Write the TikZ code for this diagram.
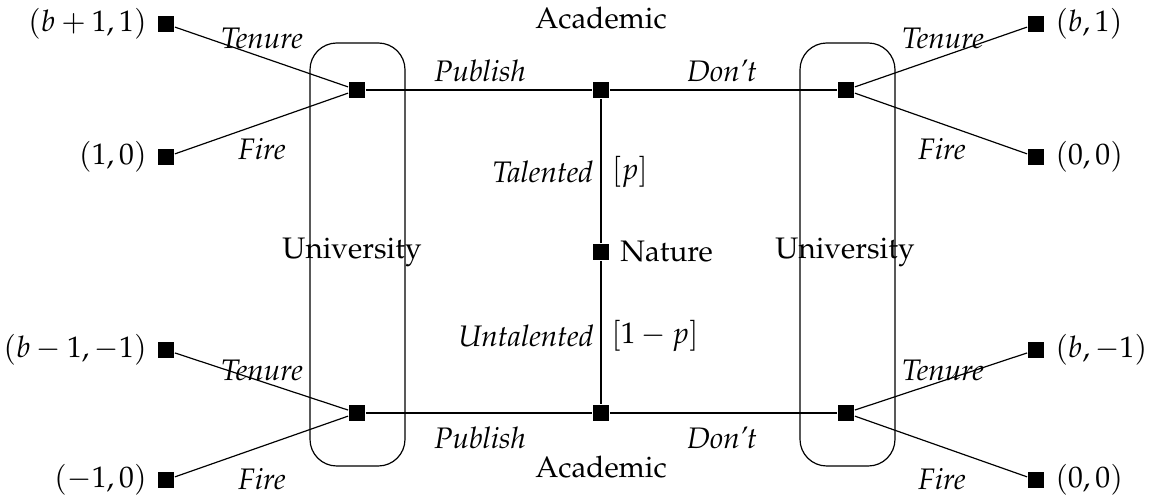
\documentclass[tikz,border=0pt]{standalone}
\usepackage[T1]{fontenc}
\usepackage{mathpazo}

\tikzset{every picture/.style={line width=0.4pt}}
\tikzset{
  move/.style={rectangle, fill=black, inner sep=0pt, minimum size=5.6pt},
  act/.style={font=\itshape, inner sep=0.75pt},
  infoset/.style={rounded corners=9pt},
}

\begin{document}
\begin{tikzpicture}[x=0.337pt,y=0.337pt,yscale=-1,xscale=1]
\useasboundingbox (0,0) rectangle (1153,503);

%Rounded Rect left information set
\draw [infoset] (310,43) rectangle (405,466);
%Rounded Rect right information set
\draw [infoset] (800,43) rectangle (895,466);

% Decision nodes
\node [move, label={right:Nature}] (nat) at (601,252) {};
\node [move] (acT) at (601,90) {};
\node [move] (acU) at (601,413) {};
\node [move] (uPT) at (357,90) {};
\node [move] (uPU) at (357,413) {};
\node [move] (uDT) at (846,90) {};
\node [move] (uDU) at (846,413) {};

% Terminal nodes
\node [move, label={left:$(b+1,1)$}] (t1) at (166,24) {};
\node [move, label={left:$(1,0)$}] (t2) at (166,157) {};
\node [move, label={left:$(b-1,-1)$}] (t3) at (166,350) {};
\node [move, label={left:$(-1,0)$}] (t4) at (166,480) {};
\node [move, label={right:$(b,1)$}] (t5) at (1036,24) {};
\node [move, label={right:$(0,0)$}] (t6) at (1036,157) {};
\node [move, label={right:$(b,-1)$}] (t7) at (1036,350) {};
\node [move, label={right:$(0,0)$}] (t8) at (1036,480) {};

%Straight Lines
\draw (nat) -- (acT);
\draw (nat) -- (acU);
\draw (uPT) -- (acT) -- (uDT);
\draw (uPU) -- (acU) -- (uDU);
\draw (t1) -- (uPT) -- (t2);
\draw (t3) -- (uPU) -- (t4);
\draw (t5) -- (uDT) -- (t6);
\draw (t7) -- (uDU) -- (t8);

% Text Node
\node (plA1) at (601,18) {Academic};
\node (plA2) at (601,467) {Academic};
\node (plU1) at (352,252) {University};
\node (plU2) at (845,252) {University};
% Text Node
\node [act] (aTal) at (543,172) {Talented};
\node (pTal) at (630,172) {$[p]$};
\node [act] (aUnt) at (526,336) {Untalented};
\node (pUnt) at (655,336) {$[1-p]$};
% Text Node
\node [act] (aPub1) at (480,71) {Publish};
\node [act] (aDon1) at (722,71) {Don't};
\node [act] (aPub2) at (480,438) {Publish};
\node [act] (aDon2) at (722,438) {Don't};
% Text Node
\node [act] (aTen1) at (262,38) {Tenure};
\node [act] (aFir1) at (262,149) {Fire};
\node [act] (aTen2) at (262,370) {Tenure};
\node [act] (aFir2) at (262,479) {Fire};
\node [act] (aTen3) at (943,38) {Tenure};
\node [act] (aFir3) at (942,149) {Fire};
\node [act] (aTen4) at (943,370) {Tenure};
\node [act] (aFir4) at (942,479) {Fire};

\end{tikzpicture}
\end{document}
